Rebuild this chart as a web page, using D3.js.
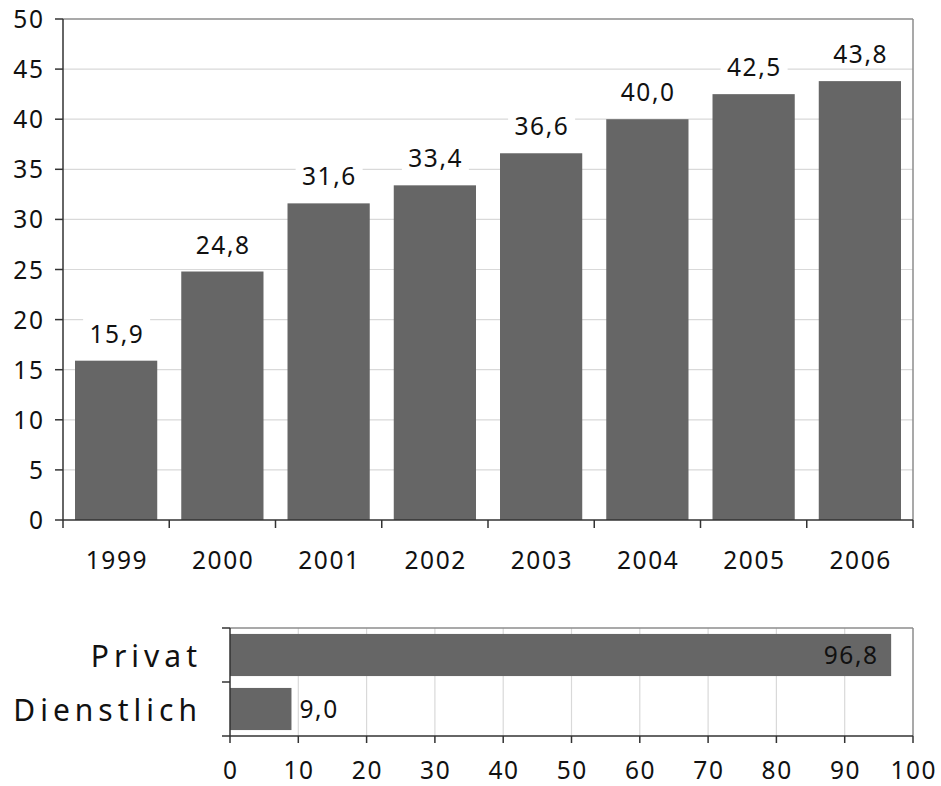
<!DOCTYPE html>
<html>
<head>
<meta charset="utf-8">
<script src="https://cdn.jsdelivr.net/npm/d3@7"></script>
<style>
html,body{margin:0;padding:0;background:#fff;}
svg text{font-family:"Noto Sans","Open Sans",sans-serif;fill:#111;}
</style>
</head>
<body>
<svg id="c" width="941" height="786"></svg>
<script>
const years = ["1999","2000","2001","2002","2003","2004","2005","2006"];
const yearValues = [15.9, 24.8, 31.6, 33.4, 36.6, 40.0, 42.5, 43.8];
const yTicks = [0,5,10,15,20,25,30,35,40,45,50];
const purposes = ["Privat","Dienstlich"];
const purposeValues = [96.8, 9.0];
const xTicks = [0,10,20,30,40,50,60,70,80,90,100];

(function () {
const fmt = v => v.toFixed(1).replace(".", ",");
const svg = d3.select("#c");
const barColor = "#666666";
const gridColor = "#d9d9d9";
const borderColor = "#8c8c8c";
const axisColor = "#333333";
const FS = 24.5, LS = 1.6, CLS = 5;

// ---------- Top chart ----------
const L = 63, R = 913, T = 19, B = 520;
const x = d3.scaleBand().domain(years).range([L, R]).paddingInner(0.226).paddingOuter(0.113);
const y = d3.scaleLinear().domain([0, 50]).range([B, T]);

const g1 = svg.append("g");
g1.selectAll("line.grid").data(yTicks.filter(t => t > 0 && t < 50)).enter().append("line")
  .attr("x1", L).attr("x2", R).attr("y1", d => y(d)).attr("y2", d => y(d))
  .attr("stroke", gridColor).attr("stroke-width", 1.2);
g1.append("line").attr("x1", L).attr("x2", R).attr("y1", y(50)).attr("y2", y(50)).attr("stroke", borderColor).attr("stroke-width", 1.5);
g1.append("line").attr("x1", R).attr("x2", R).attr("y1", y(50)).attr("y2", B).attr("stroke", borderColor).attr("stroke-width", 1.5);

g1.selectAll("rect.bar").data(yearValues).enter().append("rect")
  .attr("x", (d, i) => x(years[i])).attr("width", x.bandwidth())
  .attr("y", d => y(d)).attr("height", d => B - y(d)).attr("fill", barColor);

const lab = g1.selectAll("g.lab").data(yearValues).enter().append("g");
lab.append("rect")
  .attr("x", (d, i) => x(years[i]) + x.bandwidth() / 2 - 33)
  .attr("y", d => y(d) - 42).attr("width", 67).attr("height", 28).attr("fill", "#fff");
lab.append("text")
  .attr("x", (d, i) => x(years[i]) + x.bandwidth() / 2 + LS / 2)
  .attr("y", d => y(d) - 18).attr("text-anchor", "middle").attr("font-size", FS).attr("letter-spacing", LS)
  .text(d => fmt(d));

g1.append("line").attr("x1", L).attr("x2", L).attr("y1", T).attr("y2", B).attr("stroke", axisColor).attr("stroke-width", 1.5);
g1.selectAll("line.yt").data(yTicks).enter().append("line")
  .attr("x1", L - 8).attr("x2", L).attr("y1", d => y(d)).attr("y2", d => y(d)).attr("stroke", axisColor).attr("stroke-width", 1.5);
g1.selectAll("text.yl").data(yTicks).enter().append("text")
  .attr("x", 43 + LS).attr("y", d => y(d) + 9).attr("text-anchor", "end").attr("font-size", FS).attr("letter-spacing", LS)
  .text(d => d);

g1.append("line").attr("x1", L).attr("x2", R).attr("y1", B).attr("y2", B).attr("stroke", axisColor).attr("stroke-width", 1.5);
const step = x.step();
const boundaries = years.map(yr => x(yr) - step * x.paddingInner() / 2).concat([R]);
g1.selectAll("line.xt").data(boundaries).enter().append("line")
  .attr("x1", d => d).attr("x2", d => d).attr("y1", B).attr("y2", B + 8).attr("stroke", axisColor).attr("stroke-width", 1.5);
g1.selectAll("text.xl").data(years).enter().append("text")
  .attr("x", d => x(d) + x.bandwidth() / 2 + LS / 2).attr("y", 569).attr("text-anchor", "middle").attr("font-size", FS).attr("letter-spacing", LS)
  .text(d => d);

// ---------- Bottom chart ----------
const L2 = 230, R2 = 913, T2 = 628, B2 = 736;
const x2 = d3.scaleLinear().domain([0, 100]).range([L2, R2]);
const y2 = d3.scaleBand().domain(purposes).range([T2, B2]).paddingInner(0.22).paddingOuter(0.11);
const g2 = svg.append("g");

g2.selectAll("line.g2").data(xTicks.filter(t => t > 0 && t < 100)).enter().append("line")
  .attr("x1", d => x2(d)).attr("x2", d => x2(d)).attr("y1", T2).attr("y2", B2)
  .attr("stroke", gridColor).attr("stroke-width", 1.2);
g2.append("line").attr("x1", L2).attr("x2", R2).attr("y1", T2).attr("y2", T2).attr("stroke", borderColor).attr("stroke-width", 1.5);
g2.append("line").attr("x1", R2).attr("x2", R2).attr("y1", T2).attr("y2", B2).attr("stroke", borderColor).attr("stroke-width", 1.5);

g2.selectAll("rect.b2").data(purposeValues).enter().append("rect")
  .attr("x", L2).attr("width", d => x2(d) - L2)
  .attr("y", (d, i) => y2(purposes[i])).attr("height", y2.bandwidth()).attr("fill", barColor);

g2.selectAll("text.v2").data(purposeValues).enter().append("text")
  .attr("x", d => d > 50 ? x2(d) - 14 + LS : x2(d) + 8)
  .attr("y", (d, i) => y2(purposes[i]) + y2.bandwidth() / 2 + 9)
  .attr("text-anchor", d => d > 50 ? "end" : "start").attr("font-size", FS).attr("letter-spacing", LS)
  .text(d => fmt(d));

g2.append("line").attr("x1", L2).attr("x2", L2).attr("y1", T2).attr("y2", B2).attr("stroke", axisColor).attr("stroke-width", 1.5);
const ySep = [T2, y2(purposes[1]) - y2.step() * y2.paddingInner() / 2, B2];
g2.selectAll("line.yt2").data(ySep).enter().append("line")
  .attr("x1", L2 - 8).attr("x2", L2).attr("y1", d => d).attr("y2", d => d).attr("stroke", axisColor).attr("stroke-width", 1.5);
g2.selectAll("text.yl2").data(purposes).enter().append("text")
  .attr("x", 197 + CLS).attr("y", d => y2(d) + y2.bandwidth() / 2 + 11.5)
  .attr("text-anchor", "end").attr("font-size", 30).attr("letter-spacing", CLS)
  .text(d => d);

g2.append("line").attr("x1", L2).attr("x2", R2).attr("y1", B2).attr("y2", B2).attr("stroke", axisColor).attr("stroke-width", 1.5);
g2.selectAll("line.xt2").data(xTicks).enter().append("line")
  .attr("x1", d => x2(d)).attr("x2", d => x2(d)).attr("y1", B2).attr("y2", B2 + 7).attr("stroke", axisColor).attr("stroke-width", 1.5);
g2.selectAll("text.xl2").data(xTicks).enter().append("text")
  .attr("x", d => x2(d) + LS / 2).attr("y", 779).attr("text-anchor", "middle").attr("font-size", FS).attr("letter-spacing", LS)
  .text(d => d);
})();
</script>
</body>
</html>
